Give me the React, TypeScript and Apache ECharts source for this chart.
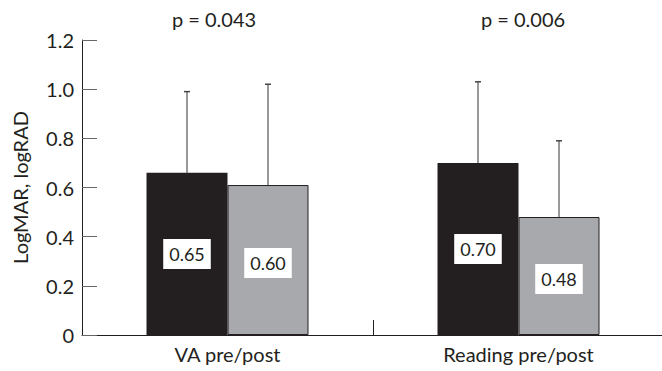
import React, { useEffect, useRef } from "react";
import * as echarts from "echarts";

const categories = ["VA pre/post", "Reading pre/post"];
const preMeans = [0.66, 0.7];
const postMeans = [0.61, 0.48];
const preUpper = [0.99, 1.03];
const postUpper = [1.02, 0.79];
const preLabels = ["0.65", "0.70"];
const postLabels = ["0.60", "0.48"];
const pValues = ["p = 0.043", "p = 0.006"];
const yTickLabels = ["0", "0.2", "0.4", "0.6", "0.8", "1.0", "1.2"];

const FONT = "Lato, 'DejaVu Sans', sans-serif";
const WEIGHT = 400;
const INK = "#231f20";
const BAR_W = 81;

function errorSeries(means: number[], uppers: number[], offset: number) {
  return {
    type: "custom",
    silent: true,
    z: 1,
    data: means.map((m, i) => [i, uppers[i], m]),
    encode: { x: 0, y: 1 },
    renderItem: (params: any, api: any) => {
      const top = api.coord([api.value(0), api.value(1)]);
      const base = api.coord([api.value(0), api.value(2)]);
      const x = top[0] + offset;
      return {
        type: "group",
        children: [
          {
            type: "line",
            shape: { x1: x, y1: base[1], x2: x, y2: top[1] },
            style: { stroke: "#777777", lineWidth: 1.5 },
          },
          {
            type: "line",
            shape: { x1: x - 3, y1: top[1], x2: x + 3, y2: top[1] },
            style: { stroke: "#444444", lineWidth: 1.5 },
          },
        ],
      };
    },
  };
}

function barLabel(texts: string[], dy: number) {
  return {
    show: true,
    position: "inside",
    offset: [0, dy],
    formatter: (p: any) => texts[p.dataIndex],
    backgroundColor: "#ffffff",
    color: INK,
    fontFamily: FONT,
    fontWeight: WEIGHT,
    fontSize: 18,
    lineHeight: 18,
    padding: [6, 6, 6, 6],
  };
}

export default function App() {
  const ref = useRef<HTMLDivElement>(null);
  useEffect(() => {
    if (!ref.current) return;
    const chart = echarts.init(ref.current, null, { renderer: "svg" });
    const option: any = {
      animation: false,
      backgroundColor: "#ffffff",
      textStyle: { fontFamily: FONT, color: INK },
      grid: {
        left: 82,
        top: 40,
        width: 582,
        height: 295,
        containLabel: false,
        outerBoundsMode: "none",
      },
      xAxis: {
        type: "category",
        data: categories,
        axisLine: { lineStyle: { color: INK, width: 1 } },
        axisTick: { show: true, inside: true, length: 15, lineStyle: { color: INK } },
        axisLabel: { color: INK, fontSize: 20, fontFamily: FONT, fontWeight: WEIGHT, margin: 9 },
        splitLine: { show: false },
      },
      yAxis: {
        type: "value",
        min: 0,
        max: 1.2,
        interval: 0.2,
        name: "LogMAR, logRAD",
        nameLocation: "middle",
        nameGap: 52,
        nameRotate: 90,
        nameTextStyle: { color: INK, fontSize: 20, fontFamily: FONT, fontWeight: WEIGHT },
        axisLine: { show: true, lineStyle: { color: INK, width: 1 } },
        axisTick: { show: true, inside: true, length: 15, lineStyle: { color: "#666666" } },
        axisLabel: {
          color: INK,
          fontSize: 20,
          fontFamily: FONT,
          fontWeight: WEIGHT,
          margin: 8,
          formatter: (_v: number, i: number) => yTickLabels[i],
        },
        splitLine: { show: false },
      },
      series: [
        {
          type: "bar",
          data: preMeans,
          barWidth: BAR_W,
          barGap: "0%",
          itemStyle: { color: INK },
          label: barLabel(preLabels, 0),
          z: 2,
        },
        {
          type: "bar",
          data: postMeans,
          barWidth: BAR_W,
          barGap: "0%",
          itemStyle: { color: "#a7a9ac", borderColor: INK, borderWidth: 1 },
          label: barLabel(postLabels, 3),
          z: 2,
        },
        errorSeries(preMeans, preUpper, -BAR_W / 2),
        errorSeries(postMeans, postUpper, BAR_W / 2),
      ],
      graphic: [
        {
          type: "text",
          x: 214,
          y: 19,
          style: {
            text: pValues[0],
            fill: INK,
            font: `${WEIGHT} 20px ${FONT}`,
            textAlign: "center",
            textVerticalAlign: "middle",
          },
        },
        {
          type: "text",
          x: 523,
          y: 19,
          style: {
            text: pValues[1],
            fill: INK,
            font: `${WEIGHT} 20px ${FONT}`,
            textAlign: "center",
            textVerticalAlign: "middle",
          },
        },
      ],
    };
    chart.setOption(option);
    return () => chart.dispose();
  }, []);
  return (
    <div
      ref={ref}
      style={{ position: "fixed", left: 0, top: 0, width: 662, height: 371 }}
    />
  );
}
